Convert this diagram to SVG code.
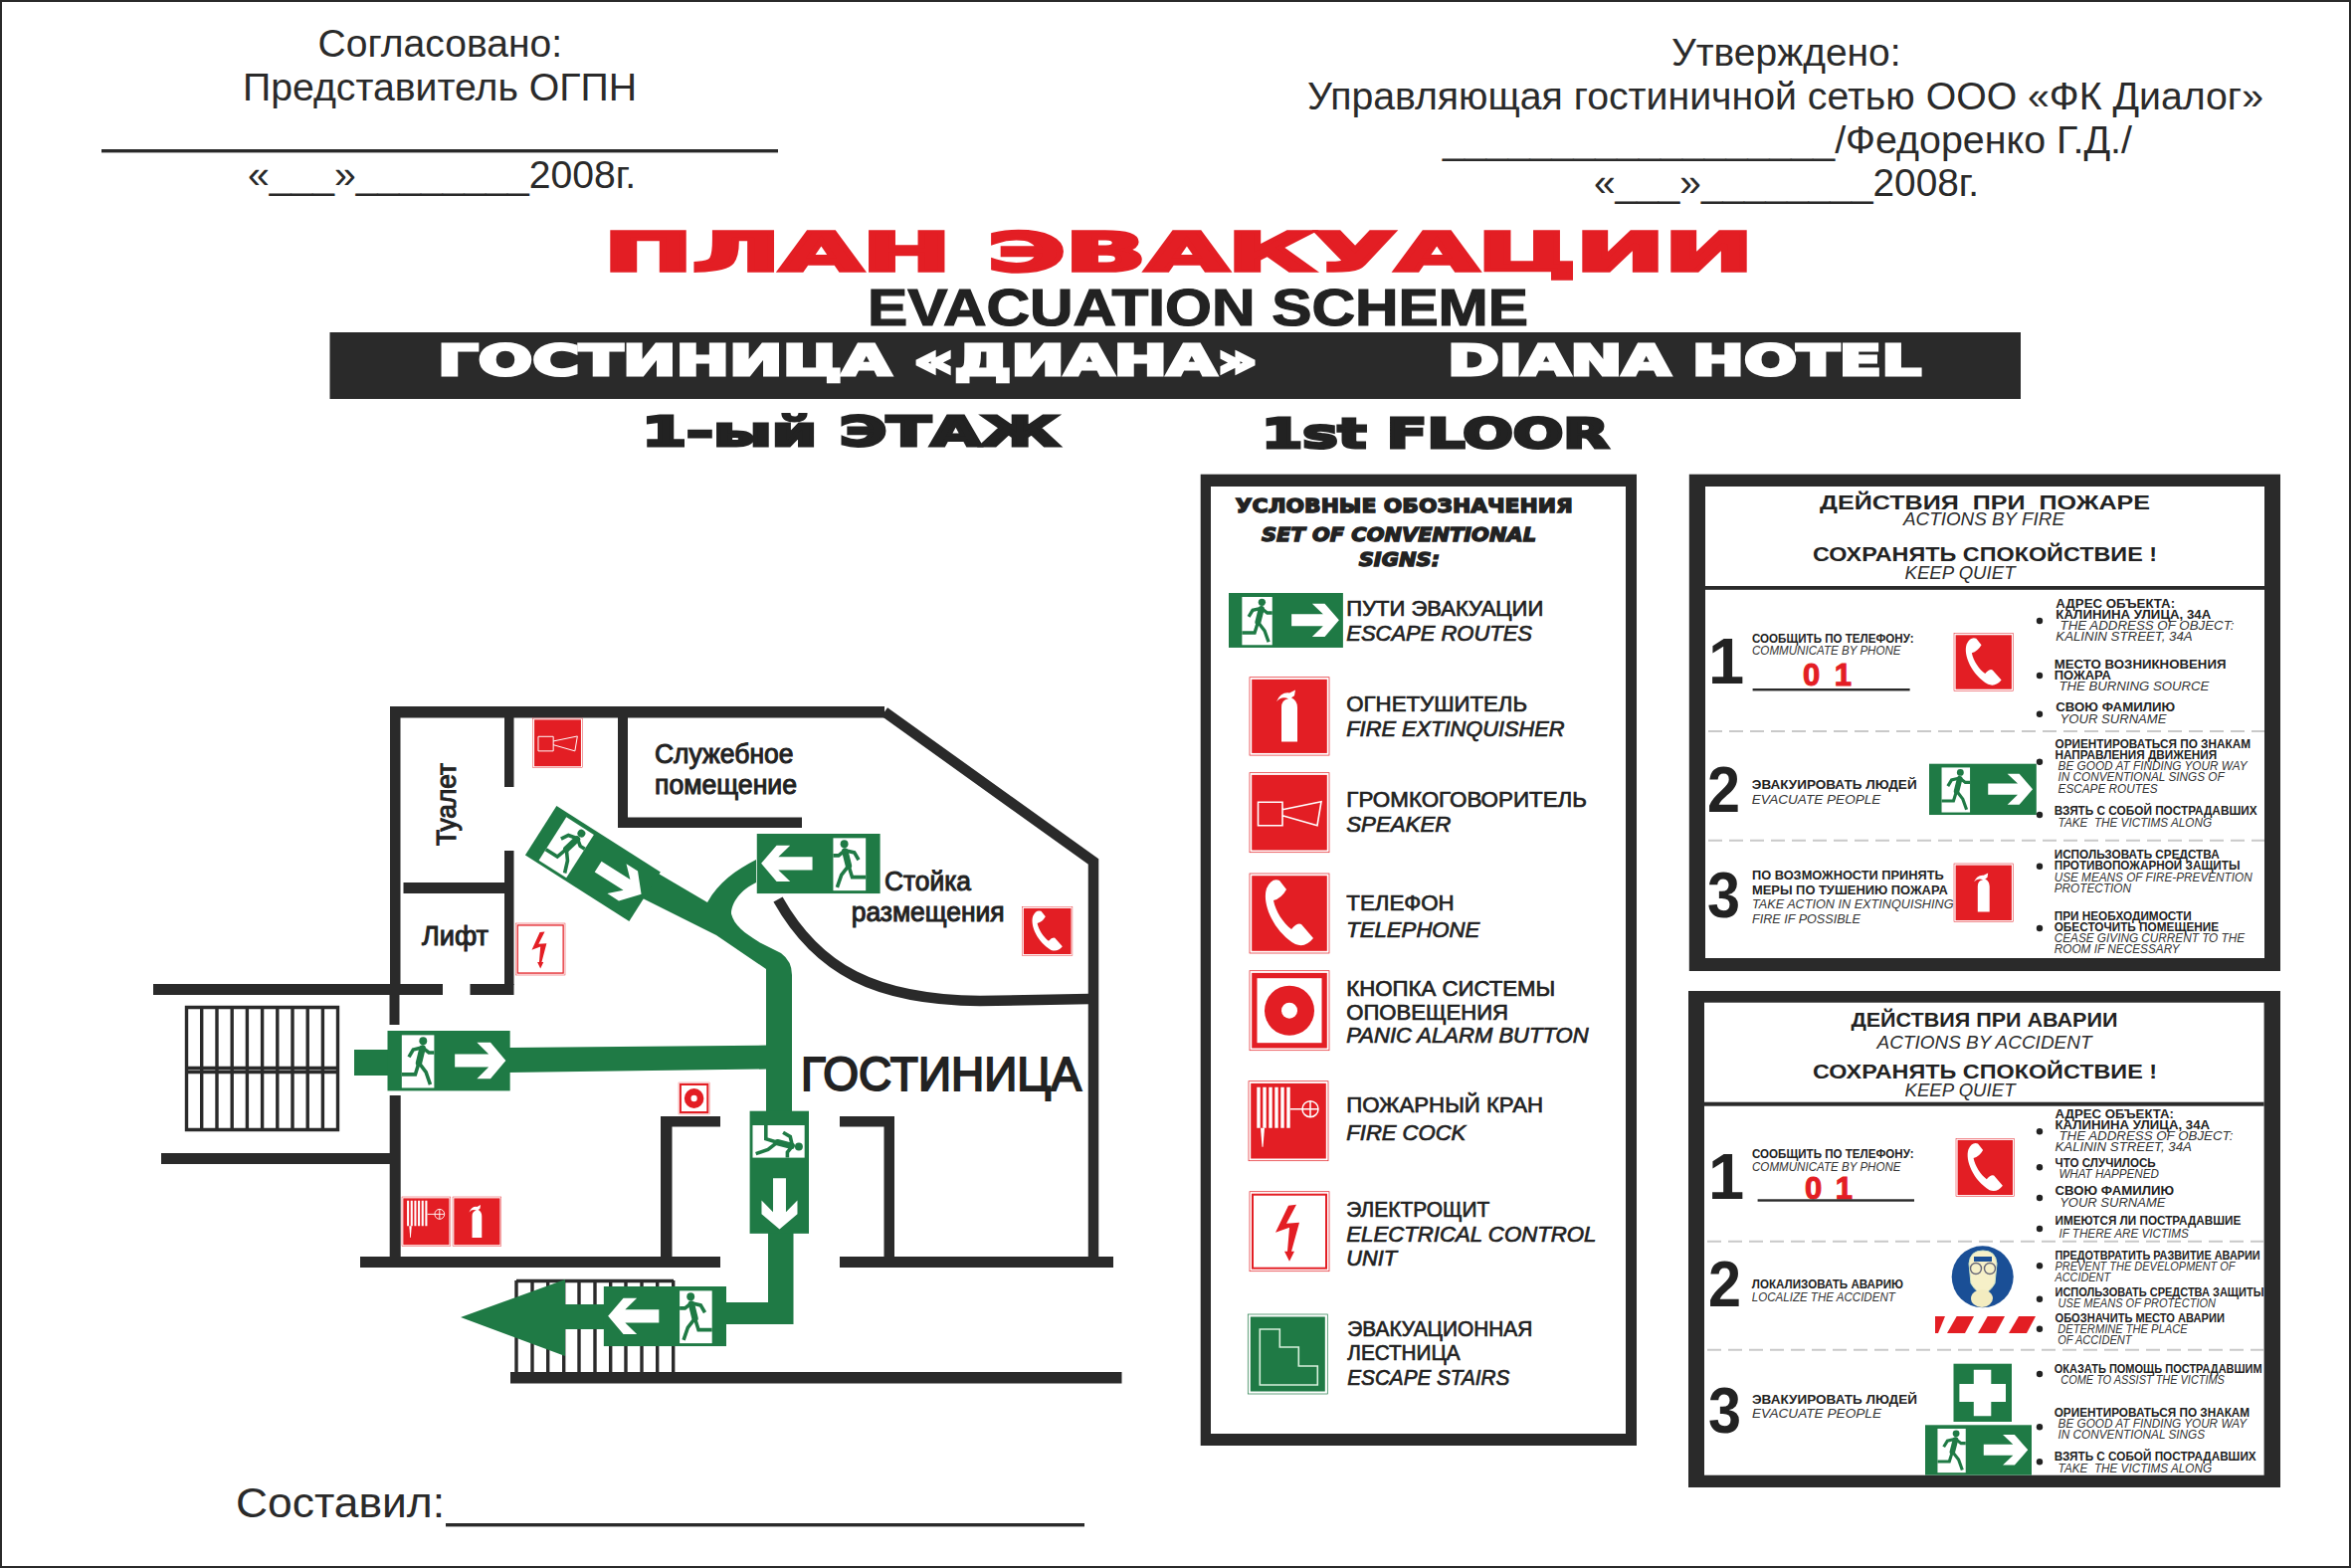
<svg xmlns="http://www.w3.org/2000/svg" width="2363" height="1576" viewBox="0 0 2363 1576">
<style>
text{font-family:"Liberation Sans",Arial,sans-serif;fill:#222}
.top{font-size:38px;fill:#2a2a2a}
.hv{font-family:"DejaVu Sans",sans-serif;font-weight:700}
.hvi{font-family:"DejaVu Sans",sans-serif;font-weight:700;font-style:italic;font-size:20px;stroke:#222;stroke-width:1.4}
.plan{font-size:27px;stroke:#222;stroke-width:1}
.lg{font-size:22px;stroke:#222;stroke-width:.7}
.li{font-size:22px;font-style:italic;stroke:#222;stroke-width:.7}
.b{font-size:12.5px;font-weight:700}
.i{font-size:12.5px;font-style:italic;fill:#333}
.num{font-size:65px;font-weight:700}
.ph{font-size:21px;font-weight:700}
.pi{font-size:19px;font-style:italic;fill:#2c2c2c}
.red{font-size:31px;font-weight:700;fill:#e31e24;stroke:#e31e24;stroke-width:1}
.wall{fill:#2a2a2a}
.wl{fill:none;stroke:#2a2a2a}
.grn{fill:#1f7a45}
.w{fill:#fff}
.dash{stroke:#c9c9c9;stroke-width:2;stroke-dasharray:14 7;fill:none}
.st{stroke:#2a2a2a;stroke-width:3.4;fill:none}
</style>
<defs>
<g id="exit">
<rect width="344" height="165" class="grn"/>
<rect x="40" y="12" width="91" height="145" class="w"/>
<circle cx="100" cy="28" r="11" class="grn"/>
<path d="M98 48L88 88" fill="none" stroke="#1f7a45" stroke-width="18" stroke-linecap="round"/>
<path d="M98 46L72 52L60 72M98 46L116 60L131 60M88 88L108 114L120 148M88 88L78 120L40 120" fill="none" stroke="#1f7a45" stroke-width="10"/>
<polygon class="w" points="189,64 284,64 251,32 289,32 332,82 289,132 251,132 284,100 189,100"/>
</g>
<g id="redbg"><rect width="80" height="80" fill="#fff" stroke="#e31e24" stroke-width=".7"/><rect x="2.2" y="2.2" width="75.6" height="75.6" fill="#e31e24"/></g>
<g id="s-ext"><use href="#redbg"/><path class="w" d="M32 66V31Q32 23 39 22Q32 19 27 25Q31 15 40 16L46 13L45 19L42 21Q48 24 48 31V66Z"/></g>
<g id="s-spk"><use href="#redbg"/><path d="M8.5 29.5H33V53H8.5ZM33 37L72 29L68 53L33 43" fill="none" stroke="#fff" stroke-width="1.6"/></g>
<g id="s-tel"><use href="#redbg"/><path class="w" d="M17 15C12 30 24 58 46 71Q56 75 64 65L52 51Q48 49 42 56C34 50 26 38 24 27Q32 25 37 16L30 7Q22 4 17 15Z"/></g>
<g id="s-alm"><use href="#redbg"/><rect x="7.5" y="7.5" width="65" height="65" fill="#fff"/><circle cx="40" cy="40" r="25" fill="#e31e24"/><circle cx="40" cy="40" r="8" fill="#fff"/></g>
<g id="s-hose"><use href="#redbg"/><path d="M10 6V47M16 6V47M22 6V47M28 6V47M34 6V47M40 6V47" stroke="#fff" stroke-width="3.4" fill="none"/><path class="w" d="M12 47H16L14.5 66L13.5 66Z"/><path d="M42 28H54M62 20V36M54 28H70" stroke="#fff" stroke-width="1.5"/><circle cx="62" cy="28" r="8" fill="none" stroke="#fff" stroke-width="1.5"/></g>
<g id="s-el"><rect width="80" height="80" fill="#fff" stroke="#e31e24" stroke-width=".7"/><rect x="3" y="3" width="74" height="74" fill="none" stroke="#e31e24" stroke-width="2"/><polygon fill="#e31e24" points="39,14 47,13 37,32 50,31 42,60 45,60 40,70 35,60 38,60 40,36 26,41"/></g>
<g id="s-stair"><rect width="80" height="80" fill="#fff" stroke="#1f7a45" stroke-width=".7"/><rect x="2.5" y="2.5" width="75" height="75" class="grn"/><path d="M12 15H32V33H51V52H70V71H12Z" fill="none" stroke="#d8f0dc" stroke-width="1.6"/></g>
</defs>
<rect width="2363" height="1576" fill="#fff"/>
<rect x="1" y="1" width="2361" height="1574" fill="none" stroke="#2a2a2a" stroke-width="2"/>

<g id="approved-left">
<text class="top" x="319.5" y="57" textLength="245.6" lengthAdjust="spacingAndGlyphs">Согласовано:</text>
<text class="top" x="244" y="100.5" textLength="396" lengthAdjust="spacingAndGlyphs">Представитель ОГПН</text>
<rect x="102" y="150" width="680" height="3.4" class="wall"/>
<text class="top" x="249" y="188.5" textLength="390" lengthAdjust="spacingAndGlyphs">«___»________2008г.</text>
</g>
<g id="approved-right">
<text class="top" x="1680" y="65.5" textLength="230.6" lengthAdjust="spacingAndGlyphs">Утверждено:</text>
<text class="top" x="1314" y="109.5" textLength="961" lengthAdjust="spacingAndGlyphs">Управляющая гостиничной сетью ООО «ФК Диалог»</text>
<text class="top" x="1450" y="153.5" textLength="693" lengthAdjust="spacingAndGlyphs">__________________/Федоренко Г.Д./</text>
<text class="top" x="1602" y="197" textLength="387" lengthAdjust="spacingAndGlyphs">«___»________2008г.</text>
</g>
<g id="title">
<text class="hv" x="607" y="272" font-size="54" style="fill:#e31e24;stroke:#e31e24;stroke-width:3.5" textLength="1155" lengthAdjust="spacingAndGlyphs">ПЛАН ЭВАКУАЦИИ</text>
<text x="872" y="327" font-size="52" style="font-weight:700;stroke:#222;stroke-width:1.2" textLength="664" lengthAdjust="spacingAndGlyphs">EVACUATION SCHEME</text>
<rect x="331.5" y="334" width="1699.5" height="67" class="wall"/>
<text class="hv" x="440" y="377" font-size="42" style="fill:#fff;stroke:#fff;stroke-width:3" textLength="824" lengthAdjust="spacingAndGlyphs">ГОСТИНИЦА «ДИАНА»</text>
<text class="hv" x="1455" y="377" font-size="42" style="fill:#fff;stroke:#fff;stroke-width:3" textLength="476" lengthAdjust="spacingAndGlyphs">DIANA HOTEL</text>
<text class="hv" x="645" y="448" font-size="41" style="stroke:#222;stroke-width:3" textLength="420" lengthAdjust="spacingAndGlyphs">1-ый ЭТАЖ</text>
<text class="hv" x="1268" y="450" font-size="41" style="stroke:#222;stroke-width:3" textLength="349" lengthAdjust="spacingAndGlyphs">1st FLOOR</text>
</g>

<g id="floor-plan">
<g id="walls">
<rect x="392" y="710" width="497" height="11.5" class="wall"/>
<path d="M889 715.5L1099 866V1263" class="wl" stroke-width="10.5"/>
<rect x="392" y="710" width="10.5" height="280" class="wall"/>
<rect x="154" y="989" width="291" height="11" class="wall"/>
<rect x="472.5" y="989" width="44" height="11" class="wall"/>
<rect x="391.5" y="1000" width="10" height="30" class="wall"/>
<rect x="391.7" y="1101" width="11" height="162" class="wall"/>
<rect x="507" y="721" width="9.5" height="70" class="wall"/>
<rect x="507" y="855" width="9.5" height="135" class="wall"/>
<rect x="405.5" y="887" width="102" height="11" class="wall"/>
<rect x="621" y="721" width="10" height="111" class="wall"/>
<rect x="621" y="821.5" width="185" height="10.5" class="wall"/>
<rect x="162" y="1159" width="230" height="11" class="wall"/>
<rect x="362" y="1263" width="362" height="11" class="wall"/>
<rect x="844" y="1263" width="275" height="11" class="wall"/>
<rect x="664" y="1122" width="11.5" height="141" class="wall"/>
<rect x="664" y="1122" width="60" height="10.5" class="wall"/>
<rect x="844" y="1122" width="55" height="10.5" class="wall"/>
<rect x="888.5" y="1122" width="10.5" height="141" class="wall"/>
<rect x="513" y="1379" width="614.5" height="11.5" class="wall"/>
<path d="M782 904C822 975 880 1005 985 1006L1095 1004" class="wl" stroke-width="10.5"/>
</g>
<g id="stairs-left">
<path class="st" d="M187.5 1012.5H339.5V1135.5H187.5ZM187.5 1073.5H339.5M187.5 1077.5H339.5M202.7 1012V1136M218 1012V1136M233.2 1012V1136M248.4 1012V1136M263.6 1012V1136M278.8 1012V1136M294 1012V1136M309.2 1012V1136M324.4 1012V1136"/>
</g>
<g id="stairs-bottom">
<path class="st" d="M519 1287.5H677M519 1287V1379M535 1287V1379M550.7 1287V1379M566.7 1287V1379M582 1287V1379M598 1287V1379M613.7 1287V1379M629 1287V1379M645 1287V1379M660.7 1287V1379M676.7 1287V1379"/>
</g>
<text class="plan" transform="translate(458,850) rotate(-90)" textLength="83" lengthAdjust="spacingAndGlyphs">Туалет</text>
<text class="plan" x="424" y="949.5" textLength="67" lengthAdjust="spacingAndGlyphs">Лифт</text>
<text class="plan" x="658" y="767" textLength="139.5" lengthAdjust="spacingAndGlyphs">Служебное</text>
<text class="plan" x="658" y="798" textLength="143" lengthAdjust="spacingAndGlyphs">помещение</text>
<text class="plan" x="889" y="894.5" textLength="87" lengthAdjust="spacingAndGlyphs">Стойка</text>
<text class="plan" x="855.7" y="925.8" textLength="154" lengthAdjust="spacingAndGlyphs">размещения</text>
<text x="805" y="1096" font-size="49" style="stroke:#222;stroke-width:2" textLength="282" lengthAdjust="spacingAndGlyphs">ГОСТИНИЦА</text>
</g>

<g id="connectors">
<path class="grn" d="M356 1055H392V1081H356Z"/>
<path class="grn" d="M510 1053L772 1050.6V1074.5L510 1078Z"/>
<path class="grn" d="M660 877L711 907C722 887 740 874 760 864V887C745 894 735 907 735 918.5C738 930 748 938 765 948L785 958Q796 966 796 980V1120H770V974L720 940L646 903Z"/>
<path class="grn" d="M772 1238H797.5V1331H728V1309H772Z"/>
<path class="grn" d="M463 1324L568 1286V1311H610V1336H568V1363Z"/>
</g>

<g id="sign-exit-west" transform="translate(389.5,1036) scale(.358,.366)"><use href="#exit"/></g>
<g id="sign-exit-diag" transform="translate(559.4,810) rotate(32.5) scale(.36,.355)"><use href="#exit"/></g>
<g id="sign-exit-north" transform="translate(884.6,838) scale(-.36,.364)"><use href="#exit"/></g>
<g id="sign-exit-south" transform="translate(813,1116.7) rotate(90) scale(.358,.36)"><use href="#exit"/></g>
<g id="sign-exit-bottom" transform="translate(730,1293) scale(-.358,.364)"><use href="#exit"/></g>
<g id="plan-speaker" transform="translate(535.7,722) scale(.62)"><use href="#s-spk"/></g>
<g id="plan-electric" transform="translate(518.4,928) scale(.62,.65)"><use href="#s-el"/></g>
<g id="plan-phone" transform="translate(1027.5,911.6) scale(.63,.61)"><use href="#s-tel"/></g>
<g id="plan-alarm" transform="translate(682,1088) scale(.39,.4)"><use href="#s-alm"/></g>
<g id="plan-hose" transform="translate(404,1203) scale(.61,.62)"><use href="#s-hose"/></g>
<g id="plan-ext" transform="translate(455,1203) scale(.61,.62)"><use href="#s-ext"/></g>

<g id="composed">
<text x="237" y="1525" font-size="42" style="fill:#2a2a2a" textLength="210" lengthAdjust="spacingAndGlyphs">Составил:</text>
<rect x="448" y="1531" width="642" height="3.4" class="wall"/>
</g>

<g id="legend">
<rect x="1206.7" y="476.7" width="438.3" height="976.3" class="wall"/>
<rect x="1217" y="489" width="417" height="952" class="w"/>
<text class="hv" x="1241.7" y="515" font-size="20" style="stroke:#222;stroke-width:1.4" textLength="339" lengthAdjust="spacingAndGlyphs">УСЛОВНЫЕ ОБОЗНАЧЕНИЯ</text>
<text class="hvi" x="1268" y="544" textLength="276" lengthAdjust="spacingAndGlyphs">SET OF CONVENTIONAL</text>
<text class="hvi" x="1365.7" y="569" textLength="81.5" lengthAdjust="spacingAndGlyphs">SIGNS:</text>
<g transform="translate(1235,596) scale(.334,.333)"><use href="#exit"/></g>
<text class="lg" x="1353.3" y="619" textLength="198" lengthAdjust="spacingAndGlyphs">ПУТИ ЭВАКУАЦИИ</text>
<text class="li" x="1353.3" y="644" textLength="186.7" lengthAdjust="spacingAndGlyphs">ESCAPE ROUTES</text>
<g transform="translate(1256,680.7) scale(1,.98)"><use href="#s-ext"/></g>
<text class="lg" x="1353.3" y="715" textLength="181.7" lengthAdjust="spacingAndGlyphs">ОГНЕТУШИТЕЛЬ</text>
<text class="li" x="1353.3" y="740" textLength="219.3" lengthAdjust="spacingAndGlyphs">FIRE EXTINQUISHER</text>
<g transform="translate(1256,776.7)"><use href="#s-spk"/></g>
<text class="lg" x="1353.3" y="811" textLength="241.7" lengthAdjust="spacingAndGlyphs">ГРОМКОГОВОРИТЕЛЬ</text>
<text class="li" x="1353.3" y="835.7" textLength="105" lengthAdjust="spacingAndGlyphs">SPEAKER</text>
<g transform="translate(1256,878)"><use href="#s-tel"/></g>
<text class="lg" x="1353.3" y="915" textLength="108.3" lengthAdjust="spacingAndGlyphs">ТЕЛЕФОН</text>
<text class="li" x="1353.3" y="941.7" textLength="134" lengthAdjust="spacingAndGlyphs">TELEPHONE</text>
<g transform="translate(1256,975.7)"><use href="#s-alm"/></g>
<text class="lg" x="1353.3" y="1000.7" textLength="210" lengthAdjust="spacingAndGlyphs">КНОПКА СИСТЕМЫ</text>
<text class="lg" x="1353.3" y="1025" textLength="162.7" lengthAdjust="spacingAndGlyphs">ОПОВЕЩЕНИЯ</text>
<text class="li" x="1353.3" y="1047.7" textLength="243.3" lengthAdjust="spacingAndGlyphs">PANIC ALARM BUTTON</text>
<g transform="translate(1255,1086.7)"><use href="#s-hose"/></g>
<text class="lg" x="1353.3" y="1117.7" textLength="197.7" lengthAdjust="spacingAndGlyphs">ПОЖАРНЫЙ КРАН</text>
<text class="li" x="1353.3" y="1145.7" textLength="120" lengthAdjust="spacingAndGlyphs">FIRE COCK</text>
<g transform="translate(1256,1197.7)"><use href="#s-el"/></g>
<text class="lg" x="1353.3" y="1222.7" textLength="144" lengthAdjust="spacingAndGlyphs">ЭЛЕКТРОЩИТ</text>
<text class="li" x="1353.3" y="1247.7" textLength="251" lengthAdjust="spacingAndGlyphs">ELECTRICAL CONTROL</text>
<text class="li" x="1353.3" y="1271.7" textLength="50.7" lengthAdjust="spacingAndGlyphs">UNIT</text>
<g transform="translate(1254.3,1321)"><use href="#s-stair"/></g>
<text class="lg" x="1354.3" y="1342.7" textLength="186" lengthAdjust="spacingAndGlyphs">ЭВАКУАЦИОННАЯ</text>
<text class="lg" x="1354.3" y="1366.7" textLength="113.3" lengthAdjust="spacingAndGlyphs">ЛЕСТНИЦА</text>
<text class="li" x="1354.3" y="1391.7" textLength="163" lengthAdjust="spacingAndGlyphs">ESCAPE STAIRS</text>
</g>

<g id="panel-fire">
<rect x="1697.8" y="476.7" width="594.2" height="499.3" class="wall"/>
<rect x="1714" y="489" width="562" height="474" class="w"/>
<rect x="1714" y="589" width="562" height="3.8" class="wall"/>
<path class="dash" d="M1717 735H2276M1717 844.7H2276"/>
<text class="ph" x="1829" y="511.7" textLength="332" lengthAdjust="spacingAndGlyphs">ДЕЙСТВИЯ&#160; ПРИ&#160; ПОЖАРЕ</text>
<text class="pi" x="1913" y="528" textLength="162" lengthAdjust="spacingAndGlyphs">ACTIONS BY FIRE</text>
<text class="ph" x="1822" y="563.5" textLength="346" lengthAdjust="spacingAndGlyphs">СОХРАНЯТЬ СПОКОЙСТВИЕ !</text>
<text class="pi" x="1914.5" y="581.7" textLength="111" lengthAdjust="spacingAndGlyphs">KEEP QUIET</text>
<text class="num" x="1717" y="687">1</text>
<text class="num" x="1716" y="815.7" textLength="33" lengthAdjust="spacingAndGlyphs">2</text>
<text class="num" x="1716" y="921.7" textLength="33" lengthAdjust="spacingAndGlyphs">3</text>
<text class="b" x="1761" y="646" textLength="162.5" lengthAdjust="spacingAndGlyphs">СООБЩИТЬ ПО ТЕЛЕФОНУ:</text>
<text class="i" x="1761" y="658" textLength="149.6" lengthAdjust="spacingAndGlyphs">COMMUNICATE BY PHONE</text>
<text class="red" x="1812" y="689" textLength="49" lengthAdjust="spacing">0 1</text>
<rect x="1761.6" y="692" width="158" height="2.4" class="wall"/>
<g transform="translate(1964,636.7) scale(.744,.72)"><use href="#s-tel"/></g>
<text class="b" x="1760.8" y="793" textLength="165.8" lengthAdjust="spacingAndGlyphs">ЭВАКУИРОВАТЬ ЛЮДЕЙ</text>
<text class="i" x="1760.8" y="807.7" textLength="129.6" lengthAdjust="spacingAndGlyphs">EVACUATE PEOPLE</text>
<g transform="translate(1939,767.7) scale(.3134,.311)"><use href="#exit"/></g>
<text class="b" x="1761" y="884.3" textLength="192.8" lengthAdjust="spacingAndGlyphs">ПО ВОЗМОЖНОСТИ ПРИНЯТЬ</text>
<text class="b" x="1761" y="899" textLength="196.7" lengthAdjust="spacingAndGlyphs">МЕРЫ ПО ТУШЕНИЮ ПОЖАРА</text>
<text class="i" x="1761" y="913.3" textLength="202.5" lengthAdjust="spacingAndGlyphs">TAKE ACTION IN EXTINQUISHING</text>
<text class="i" x="1761" y="927.7" textLength="109" lengthAdjust="spacingAndGlyphs">FIRE IF POSSIBLE</text>
<g transform="translate(1964,868) scale(.744,.733)"><use href="#s-ext"/></g>
<g fill="#222"><circle cx="2050" cy="624" r="3.2"/><circle cx="2050" cy="679" r="3.2"/><circle cx="2050" cy="717.7" r="3.2"/><circle cx="2050" cy="765.7" r="3.2"/><circle cx="2050" cy="819" r="3.2"/><circle cx="2050" cy="870.7" r="3.2"/><circle cx="2050" cy="933" r="3.2"/></g>
<text class="b" x="2066.3" y="610.7" textLength="119.8" lengthAdjust="spacingAndGlyphs">АДРЕС ОБЪЕКТА:</text>
<text class="b" x="2066.3" y="621.7" textLength="156" lengthAdjust="spacingAndGlyphs">КАЛИНИНА УЛИЦА, 34А</text>
<text class="i" x="2070.5" y="632.7" textLength="175" lengthAdjust="spacingAndGlyphs">THE ADDRESS OF OBJECT:</text>
<text class="i" x="2066.3" y="644" textLength="137.4" lengthAdjust="spacingAndGlyphs">KALININ STREET, 34A</text>
<text class="b" x="2064.7" y="671.7" textLength="172.8" lengthAdjust="spacingAndGlyphs">МЕСТО ВОЗНИКНОВЕНИЯ</text>
<text class="b" x="2064.7" y="682.7" textLength="57.2" lengthAdjust="spacingAndGlyphs">ПОЖАРА</text>
<text class="i" x="2069.4" y="694" textLength="151" lengthAdjust="spacingAndGlyphs">THE BURNING SOURCE</text>
<text class="b" x="2066.3" y="715" textLength="119.8" lengthAdjust="spacingAndGlyphs">СВОЮ ФАМИЛИЮ</text>
<text class="i" x="2070.5" y="726.7" textLength="107" lengthAdjust="spacingAndGlyphs">YOUR SURNAME</text>
<text class="b" x="2065.5" y="751.7" textLength="196.5" lengthAdjust="spacingAndGlyphs">ОРИЕНТИРОВАТЬСЯ ПО ЗНАКАМ</text>
<text class="b" x="2065.5" y="762.7" textLength="162.6" lengthAdjust="spacingAndGlyphs">НАПРАВЛЕНИЯ ДВИЖЕНИЯ</text>
<text class="i" x="2068.6" y="774" textLength="190" lengthAdjust="spacingAndGlyphs">BE GOOD AT FINDING YOUR WAY</text>
<text class="i" x="2068.6" y="785" textLength="167" lengthAdjust="spacingAndGlyphs">IN CONVENTIONAL SINGS OF</text>
<text class="i" x="2068.6" y="796.7" textLength="100" lengthAdjust="spacingAndGlyphs">ESCAPE ROUTES</text>
<text class="b" x="2064.7" y="819" textLength="203.9" lengthAdjust="spacingAndGlyphs">ВЗЯТЬ С СОБОЙ ПОСТРАДАВШИХ</text>
<text class="i" x="2068.6" y="830.7" textLength="154.5" lengthAdjust="spacingAndGlyphs">TAKE&#160; THE VICTIMS ALONG</text>
<text class="b" x="2064.7" y="863" textLength="166" lengthAdjust="spacingAndGlyphs">ИСПОЛЬЗОВАТЬ СРЕДСТВА</text>
<text class="b" x="2064.7" y="874" textLength="186.8" lengthAdjust="spacingAndGlyphs">ПРОТИВОПОЖАРНОЙ ЗАЩИТЫ</text>
<text class="i" x="2064.7" y="885.7" textLength="199" lengthAdjust="spacingAndGlyphs">USE MEANS OF FIRE-PREVENTION</text>
<text class="i" x="2064.7" y="896.7" textLength="77.4" lengthAdjust="spacingAndGlyphs">PROTECTION</text>
<text class="b" x="2064.7" y="925" textLength="138" lengthAdjust="spacingAndGlyphs">ПРИ НЕОБХОДИМОСТИ</text>
<text class="b" x="2064.7" y="936" textLength="165.4" lengthAdjust="spacingAndGlyphs">ОБЕСТОЧИТЬ ПОМЕЩЕНИЕ</text>
<text class="i" x="2064.7" y="947" textLength="191.4" lengthAdjust="spacingAndGlyphs">CEASE GIVING CURRENT TO THE</text>
<text class="i" x="2064.7" y="958" textLength="126" lengthAdjust="spacingAndGlyphs">ROOM IF NECESSARY</text>
</g>

<g id="panel-accident">
<rect x="1697" y="996" width="595" height="499" class="wall"/>
<rect x="1713" y="1007.7" width="562.6" height="475" class="w"/>
<rect x="1713" y="1107.7" width="562.6" height="4" class="wall"/>
<path class="dash" d="M1716 1247.7H2275M1716 1356.7H2275"/>
<text class="ph" x="1860.4" y="1031.7" textLength="268" lengthAdjust="spacingAndGlyphs">ДЕЙСТВИЯ ПРИ АВАРИИ</text>
<text class="pi" x="1886.5" y="1054" textLength="216" lengthAdjust="spacingAndGlyphs">ACTIONS BY ACCIDENT</text>
<text class="ph" x="1822" y="1083.8" textLength="346" lengthAdjust="spacingAndGlyphs">СОХРАНЯТЬ СПОКОЙСТВИЕ !</text>
<text class="pi" x="1914.5" y="1101.7" textLength="111" lengthAdjust="spacingAndGlyphs">KEEP QUIET</text>
<text class="num" x="1717" y="1205">1</text>
<text class="num" x="1717" y="1313.3" textLength="33" lengthAdjust="spacingAndGlyphs">2</text>
<text class="num" x="1717" y="1440" textLength="33" lengthAdjust="spacingAndGlyphs">3</text>
<text class="b" x="1761" y="1164.3" textLength="162.5" lengthAdjust="spacingAndGlyphs">СООБЩИТЬ ПО ТЕЛЕФОНУ:</text>
<text class="i" x="1761" y="1176.7" textLength="149.6" lengthAdjust="spacingAndGlyphs">COMMUNICATE BY PHONE</text>
<text class="red" x="1814" y="1205" textLength="48" lengthAdjust="spacing">0 1</text>
<rect x="1766.6" y="1205.3" width="157.4" height="2.4" class="wall"/>
<g transform="translate(1966,1144.3) scale(.733,.73)"><use href="#s-tel"/></g>
<text class="b" x="1760.8" y="1295" textLength="152.2" lengthAdjust="spacingAndGlyphs">ЛОКАЛИЗОВАТЬ АВАРИЮ</text>
<text class="i" x="1760.8" y="1307.7" textLength="144" lengthAdjust="spacingAndGlyphs">LOCALIZE THE ACCIDENT</text>
<g id="mask">
<circle cx="1992.7" cy="1283.3" r="31" fill="#1a4f96"/>
<path d="M1979 1270Q1980 1257 1993 1257Q2006 1257 2007 1270L2005 1290Q1999 1300 1993 1300Q1987 1300 1981 1290Z" fill="#f6f0c8" stroke="#cfe6c8"/>
<ellipse cx="1992" cy="1305" rx="11" ry="9" fill="#f3ecc0"/>
<rect x="1984" y="1263" width="18" height="5" fill="#1a4f96"/>
<circle cx="1986" cy="1275" r="5.5" fill="none" stroke="#667" stroke-width="1.4"/><circle cx="2000" cy="1275" r="5.5" fill="none" stroke="#667" stroke-width="1.4"/>
</g>
<g id="barrier" fill="#e31e24"><polygon points="1945,1323 1955,1323 1948,1340 1945,1340"/><polygon points="1966.7,1323 1984,1323 1975,1340 1957,1340"/><polygon points="1997.7,1323 2015,1323 2006,1340 1988,1340"/><polygon points="2029,1323 2046,1323 2037,1340 2019,1340"/></g>
<text class="b" x="1761" y="1410.7" textLength="166" lengthAdjust="spacingAndGlyphs">ЭВАКУИРОВАТЬ ЛЮДЕЙ</text>
<text class="i" x="1761" y="1425" textLength="130" lengthAdjust="spacingAndGlyphs">EVACUATE PEOPLE</text>
<g id="first-aid"><rect x="1963.5" y="1370.7" width="58.5" height="58.3" class="grn"/><path class="w" d="M1983.8 1376.7H2001.3V1391H2016V1409H2001.3V1423.3H1983.8V1409H1969.4V1391H1983.8Z"/></g>
<g transform="translate(1935,1432.3) scale(.311,.305)"><use href="#exit"/></g>
<g fill="#222"><circle cx="2050" cy="1137.3" r="3.2"/><circle cx="2050" cy="1173.3" r="3.2"/><circle cx="2050" cy="1204" r="3.2"/><circle cx="2050" cy="1235" r="3.2"/><circle cx="2050" cy="1272.3" r="3.2"/><circle cx="2050" cy="1305.7" r="3.2"/><circle cx="2050" cy="1335.7" r="3.2"/><circle cx="2050" cy="1381" r="3.2"/><circle cx="2050" cy="1434.3" r="3.2"/><circle cx="2050" cy="1469.3" r="3.2"/></g>
<text class="b" x="2065.5" y="1124" textLength="119.5" lengthAdjust="spacingAndGlyphs">АДРЕС ОБЪЕКТА:</text>
<text class="b" x="2065.5" y="1135" textLength="155.6" lengthAdjust="spacingAndGlyphs">КАЛИНИНА УЛИЦА, 34А</text>
<text class="i" x="2069.4" y="1146" textLength="175" lengthAdjust="spacingAndGlyphs">THE ADDRESS OF OBJECT:</text>
<text class="i" x="2065.5" y="1157.3" textLength="137.4" lengthAdjust="spacingAndGlyphs">KALININ STREET, 34A</text>
<text class="b" x="2065.5" y="1173.3" textLength="101.2" lengthAdjust="spacingAndGlyphs">ЧТО СЛУЧИЛОСЬ</text>
<text class="i" x="2069.4" y="1184.3" textLength="100.4" lengthAdjust="spacingAndGlyphs">WHAT HAPPENED</text>
<text class="b" x="2065.5" y="1201" textLength="119.5" lengthAdjust="spacingAndGlyphs">СВОЮ ФАМИЛИЮ</text>
<text class="i" x="2070.2" y="1212.7" textLength="106.2" lengthAdjust="spacingAndGlyphs">YOUR SURNAME</text>
<text class="b" x="2065.5" y="1230.7" textLength="186.8" lengthAdjust="spacingAndGlyphs">ИМЕЮТСЯ ЛИ ПОСТРАДАВШИЕ</text>
<text class="i" x="2069.4" y="1244" textLength="130.4" lengthAdjust="spacingAndGlyphs">IF THERE ARE VICTIMS</text>
<text class="b" x="2065.5" y="1265.7" textLength="206.2" lengthAdjust="spacingAndGlyphs">ПРЕДОТВРАТИТЬ РАЗВИТИЕ АВАРИИ</text>
<text class="i" x="2065.5" y="1276.7" textLength="181" lengthAdjust="spacingAndGlyphs">PREVENT THE DEVELOPMENT OF</text>
<text class="i" x="2065.5" y="1288" textLength="55.6" lengthAdjust="spacingAndGlyphs">ACCIDENT</text>
<text class="b" x="2065.5" y="1303.3" textLength="210" lengthAdjust="spacingAndGlyphs">ИСПОЛЬЗОВАТЬ СРЕДСТВА ЗАЩИТЫ</text>
<text class="i" x="2068.6" y="1314.3" textLength="158.4" lengthAdjust="spacingAndGlyphs">USE MEANS OF PROTECTION</text>
<text class="b" x="2065.5" y="1329" textLength="170.4" lengthAdjust="spacingAndGlyphs">ОБОЗНАЧИТЬ МЕСТО АВАРИИ</text>
<text class="i" x="2068.2" y="1340" textLength="130.4" lengthAdjust="spacingAndGlyphs">DETERMINE THE PLACE</text>
<text class="i" x="2068.2" y="1351" textLength="74.3" lengthAdjust="spacingAndGlyphs">OF ACCIDENT</text>
<text class="b" x="2064.7" y="1380" textLength="209" lengthAdjust="spacingAndGlyphs">ОКАЗАТЬ ПОМОЩЬ ПОСТРАДАВШИМ</text>
<text class="i" x="2071.3" y="1391" textLength="164.6" lengthAdjust="spacingAndGlyphs">COME TO ASSIST THE VICTIMS</text>
<text class="b" x="2064.7" y="1424" textLength="196.5" lengthAdjust="spacingAndGlyphs">ОРИЕНТИРОВАТЬСЯ ПО ЗНАКАМ</text>
<text class="i" x="2068.6" y="1435" textLength="189.5" lengthAdjust="spacingAndGlyphs">BE GOOD AT FINDING YOUR WAY</text>
<text class="i" x="2068.6" y="1446" textLength="147.5" lengthAdjust="spacingAndGlyphs">IN CONVENTIONAL SINGS</text>
<text class="b" x="2064.7" y="1468.3" textLength="203" lengthAdjust="spacingAndGlyphs">ВЗЯТЬ С СОБОЙ ПОСТРАДАВШИХ</text>
<text class="i" x="2068.6" y="1479.7" textLength="154.5" lengthAdjust="spacingAndGlyphs">TAKE&#160; THE VICTIMS ALONG</text>
</g>
</svg>
